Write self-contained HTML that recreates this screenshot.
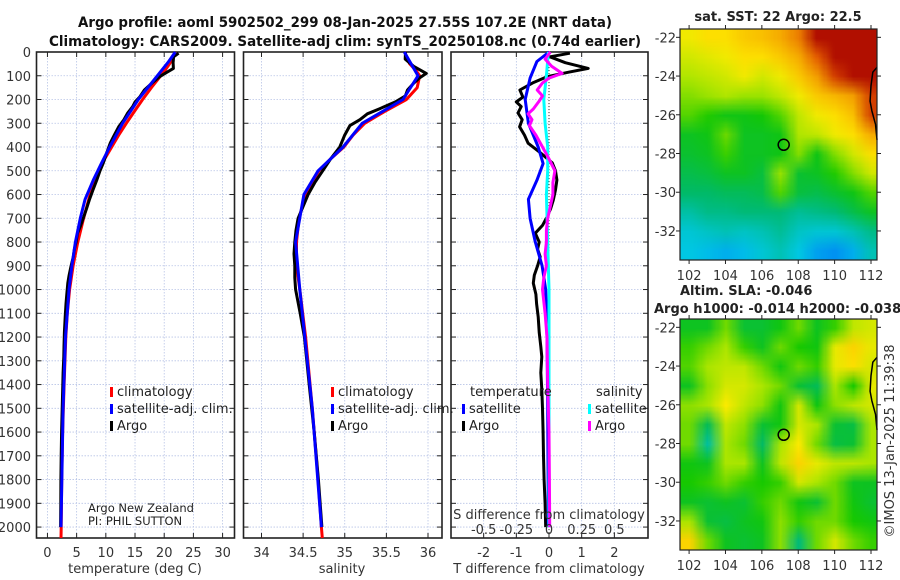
<!DOCTYPE html>
<html><head><meta charset="utf-8">
<style>
html,body{margin:0;padding:0;background:#fff;}
#wrap{position:relative;width:900px;height:580px;overflow:hidden;font-family:"DejaVu Sans","Liberation Sans",sans-serif;}
canvas{position:absolute;}
svg{position:absolute;left:0;top:0;}
</style></head>
<body>
<div id="wrap">
<canvas id="sstCanvas" style="left:680px;top:29px" width="197" height="231"></canvas>
<canvas id="slaCanvas" style="left:680px;top:319px" width="197" height="231"></canvas>
<svg id="fig" width="900" height="580" xmlns="http://www.w3.org/2000/svg"></svg>
</div>
<script>
// ---------- DATA ----------
const depthTicks = [0,100,200,300,400,500,600,700,800,900,1000,1100,1200,1300,1400,1500,1600,1700,1800,1900,2000];
const tempTicks = [0,5,10,15,20,25,30];
const salTicks = [34,34.5,35,35.5,36];
const salTickLabels = ["34","34.5","35","35.5","36"];
const tdiffTicks = [-2,-1,0,1,2];
const sdiffTicks = [-0.5,-0.25,0,0.25,0.5];
const sdiffTickLabels = ["-0.5","-0.25","0","0.25","0.5"];

const climTDepth = [0,25,50,75,100,150,200,250,300,350,400,450,500,600,700,800,900,1000,1100,1200,1400,1600,1800,2000,2046];
const climTVal   = [21.9,21.5,20.9,20.2,19.4,17.8,16.3,14.9,13.5,12.2,11.0,9.8,8.8,7.3,6.2,5.2,4.4,3.8,3.4,3.15,2.85,2.6,2.45,2.35,2.32];
const climSDepth = [0,50,80,100,150,200,250,300,350,400,450,500,600,700,800,900,1000,1200,1500,1800,2000,2046];
const climSVal   = [35.72,35.78,35.86,35.9,35.87,35.74,35.48,35.24,35.1,34.99,34.83,34.69,34.53,34.45,34.42,34.42,34.46,34.53,34.61,34.68,34.72,34.73];

const argoTDiffDepth = [5,20,45,69,85,104,130,160,190,210,230,257,285,315,350,384,420,467,500,539,580,623,660,694,730,763,800,830,862,900,940,973,1020,1060,1115,1180,1240,1283,1350,1420,1500,1600,1700,1800,1900,2000];
const argoTDiff      = [0.64,0.03,0.5,1.2,0.6,-0.06,-0.5,-0.89,-0.8,-1.0,-0.85,-0.95,-0.82,-0.9,-0.75,-0.64,-0.3,0.1,0.2,0.24,0.2,0.13,0.05,-0.06,-0.2,-0.42,-0.3,-0.35,-0.27,-0.35,-0.45,-0.48,-0.4,-0.38,-0.33,-0.3,-0.25,-0.22,-0.25,-0.22,-0.2,-0.18,-0.17,-0.15,-0.12,-0.1];
const satTDiffDepth = [0,40,110,200,300,400,470,540,620,700,800,900,1000,1200,1500,2000];
const satTDiff      = [0,-0.37,-0.58,-0.73,-0.63,-0.33,-0.18,-0.37,-0.63,-0.58,-0.42,-0.21,-0.1,-0.06,-0.04,-0.02];
const argoSDiffDepth = [0,30,60,90,110,130,160,185,210,240,260,285,310,350,400,450,500,550,600,650,700,750,800,850,900,950,1000,1100,1200,1400,1600,1800,2000];
const argoSDiff      = [0.01,-0.03,0.02,0.1,0.0,-0.05,-0.09,-0.05,-0.08,-0.12,-0.16,-0.13,-0.15,-0.1,-0.05,0.0,0.045,0.03,0.03,0.01,-0.01,-0.02,-0.02,-0.03,-0.02,-0.04,-0.05,-0.03,-0.015,-0.01,0.0,0.003,0.005];
const satSDiffDepth = [0,100,200,300,400,500,600,800,1000,1500,2000];
const satSDiff      = [-0.005,-0.02,-0.04,-0.03,-0.01,-0.01,-0.02,-0.01,0,0,0];

// maps: rows lat -22..-33, cols lon 102..112
const mapLats = [-22,-23,-24,-25,-26,-27,-28,-29,-30,-31,-32,-33];
const mapLons = [102,103,104,105,106,107,108,109,110,111,112];
const sstGrid = [
[22.8,23.0,23.0,23.2,23.3,23.5,23.8,24.5,24.5,24.5,24.5],
[22.6,22.7,22.8,23.0,23.0,23.2,23.5,24.0,24.5,24.5,24.5],
[22.4,22.5,22.6,22.8,22.6,22.8,23.2,23.6,24.2,24.5,24.5],
[22.2,22.3,22.4,22.3,22.3,22.5,22.8,23.2,23.4,23.6,24.2],
[22.0,21.8,21.6,21.6,21.7,22.0,22.5,22.8,23.0,23.3,24.2],
[21.5,21.6,22.1,21.5,21.5,21.6,22.4,22.5,22.8,23.0,23.5],
[21.4,21.5,21.9,21.5,21.5,21.6,22.2,21.6,22.2,22.6,23.0],
[21.2,21.3,21.5,21.5,21.3,22.3,21.4,21.5,21.8,22.2,22.6],
[21.0,21.0,21.1,21.1,21.2,22.0,21.3,21.2,21.4,21.6,22.0],
[20.6,20.8,20.8,20.9,20.9,20.9,20.7,20.8,20.9,21.2,21.5],
[20.3,20.4,20.5,20.4,20.5,20.7,20.4,20.3,20.3,20.5,20.8],
[20.2,20.1,20.0,20.1,20.3,20.5,20.2,19.9,19.8,20.0,20.5]];
const slaGrid = [
[-0.05,-0.05,0,-0.06,-0.06,-0.04,0,-0.05,-0.02,0.03,0.04],
[-0.02,0,0.02,-0.02,-0.05,0,-0.03,-0.04,0.05,0.08,0.05],
[-0.01,0.02,0.03,0.03,0,-0.04,0,-0.02,0.05,0.07,0.04],
[-0.05,0.01,0.04,0.04,0.02,0,-0.06,-0.08,0.02,-0.03,0.05],
[0.01,0.02,0.06,0.03,0.01,-0.04,0.04,-0.04,0.01,0.03,0.04],
[0.0,-0.08,0.03,0.01,-0.06,-0.04,0.04,0.02,-0.06,-0.07,0.02],
[0.0,-0.12,0.02,0.0,-0.09,0.02,0.06,0.0,-0.07,-0.06,0.02],
[-0.04,-0.05,0.02,0.02,-0.05,0.03,0.08,0.05,0.03,0.03,0.02],
[-0.03,-0.02,0,-0.02,-0.03,-0.02,0.04,0.02,0.0,-0.05,-0.05],
[-0.05,-0.06,-0.05,-0.06,-0.02,0,-0.04,-0.06,0,-0.04,-0.06],
[0.02,-0.06,-0.07,-0.05,-0.04,0.01,-0.02,0.0,0.0,-0.03,-0.04],
[0.08,0,-0.05,-0.06,-0.05,0.01,-0.10,0.0,0.04,0.0,-0.02]];
const mapLatTicks = [-22,-24,-26,-28,-30,-32];
const mapLonTicks = [102,104,106,108,110,112];
const argoLon = 107.2, argoLat = -27.55;
const coastLon = [112.33,112.1,112.0,111.95,112.05,112.25,112.33];
const coastLat = [-23.55,-23.8,-24.5,-25.3,-25.8,-26.5,-27.3];

// ---------- HELPERS ----------
const NS = "http://www.w3.org/2000/svg";
const svg = document.getElementById('fig');
function mk(tag, attrs, parent, text){
  const e = document.createElementNS(NS, tag);
  for (const k in attrs) e.setAttribute(k, attrs[k]);
  if (text !== undefined) e.textContent = text;
  (parent || svg).appendChild(e);
  return e;
}
function interp(xs, ys, x){
  if (x <= xs[0]) return ys[0];
  for (let i=1;i<xs.length;i++){ if (x <= xs[i]){ const t=(x-xs[i-1])/(xs[i]-xs[i-1]); return ys[i-1]+t*(ys[i]-ys[i-1]); } }
  return ys[ys.length-1];
}
const TOP=52, BOT=538, DMAX=2046;
const yD = d => TOP + d*(BOT-TOP)/DMAX;
function lin(d0,d1,r0,r1){ return v => r0 + (v-d0)*(r1-r0)/(d1-d0); }

const P1 = {x0:36.5, x1:234.5, s: lin(-1.875,32.04,36.5,234.5)};
const P2 = {x0:243.5, x1:442, s: lin(33.784,36.168,243.5,442)};
const P3 = {x0:451, x1:648, s: lin(-3.0,3.03,451,648), s2: lin(-0.75,0.7575,451,648)};

function panelFrame(P, name, xticks, xlabels, xscale){
  const g = mk('g',{});
  
  
  depthTicks.forEach(d=>{
    const y=yD(d);
    mk('line',{x1:P.x0,x2:P.x1,y1:y,y2:y,stroke:'#b8c4e6','stroke-width':0.8,'stroke-dasharray':'1.5,1.5'},g);
    mk('line',{x1:P.x0,x2:P.x0+5,y1:y,y2:y,stroke:'#222','stroke-width':1},g);
    mk('line',{x1:P.x1,x2:P.x1-5,y1:y,y2:y,stroke:'#222','stroke-width':1},g);
  });
  xticks.forEach((v,i)=>{
    const x=xscale(v);
    mk('line',{x1:x,x2:x,y1:TOP,y2:BOT,stroke:'#b8c4e6','stroke-width':0.8,'stroke-dasharray':'1.5,1.5'},g);
    mk('line',{x1:x,x2:x,y1:BOT,y2:BOT-5,stroke:'#222','stroke-width':1},g);
    mk('line',{x1:x,x2:x,y1:TOP,y2:TOP+5,stroke:'#222','stroke-width':1},g);
    const t = mk('text',{x:x,y:557,'text-anchor':'middle','font-size':13,fill:'#333'},g,xlabels[i]);
    
    
  });
  mk('rect',{x:P.x0,y:TOP,width:P.x1-P.x0,height:BOT-TOP,fill:'none',stroke:'#222','stroke-width':1.6},g);
  return g;
}
panelFrame(P1,'temperature-panel',tempTicks,tempTicks.map(String),P1.s);
panelFrame(P2,'salinity-panel',salTicks,salTickLabels,P2.s);
panelFrame(P3,'difference-panel',tdiffTicks,tdiffTicks.map(String),P3.s);

depthTicks.forEach(d=>{
  const t = mk('text',{x:31,y:yD(d)+5,'text-anchor':'end','font-size':13,fill:'#333'},svg,String(d));
  
  
});

function drawLine(pts, color, w, name, dash){
  const p = mk('polyline',{points:pts.map(q=>q[0].toFixed(1)+','+q[1].toFixed(1)).join(' '),fill:'none',stroke:color,'stroke-width':w,'stroke-linejoin':'round'});
  if (dash) p.setAttribute('stroke-dasharray',dash);
  
  
  return p;
}
drawLine(climTDepth.map((d,i)=>[P1.s(climTVal[i]),yD(d)]),'#f00',3,'climatology-temperature-line');
drawLine(argoTDiffDepth.map((d,i)=>[P1.s(interp(climTDepth,climTVal,d)+argoTDiff[i]),yD(d)]),'#000',3,'argo-temperature-line');
drawLine(satTDiffDepth.map((d,i)=>[P1.s(interp(climTDepth,climTVal,d)+satTDiff[i]),yD(d)]),'#00f',3,'satellite-temperature-line');
drawLine(climSDepth.map((d,i)=>[P2.s(climSVal[i]),yD(d)]),'#f00',3,'climatology-salinity-line');
drawLine(argoSDiffDepth.map((d,i)=>[P2.s(interp(climSDepth,climSVal,d)+argoSDiff[i]),yD(d)]),'#000',3,'argo-salinity-line');
drawLine(satSDiffDepth.map((d,i)=>[P2.s(interp(climSDepth,climSVal,d)+satSDiff[i]),yD(d)]),'#00f',3,'satellite-salinity-line');
drawLine([[P3.s(0),TOP],[P3.s(0),BOT]],'#333',1,'zero-line','1,2');
drawLine(argoTDiffDepth.map((d,i)=>[P3.s(argoTDiff[i]),yD(d)]),'#000',3,'argo-temperature-diff-line');
drawLine(satTDiffDepth.map((d,i)=>[P3.s(satTDiff[i]),yD(d)]),'#00f',3,'satellite-temperature-diff-line');
drawLine(satSDiffDepth.map((d,i)=>[P3.s2(satSDiff[i]),yD(d)]),'#0ff',3,'satellite-salinity-diff-line');
drawLine(argoSDiffDepth.map((d,i)=>[P3.s2(argoSDiff[i]),yD(d)]),'#f0f',3,'argo-salinity-diff-line');

sdiffTicks.forEach((v,i)=>{
  const t = mk('text',{x:P3.s2(v),y:534,'text-anchor':'middle','font-size':13,fill:'#333'},svg,sdiffTickLabels[i]);
  
  
});
</script>
<script>
function txt(x,y,s,opts,name){
  const t = mk('text',Object.assign({x:x,y:y,'font-size':13,fill:'#222'},opts||{}),svg,s);
  
  
  return t;
}
txt(345,27,'Argo profile: aoml 5902502_299 08-Jan-2025 27.55S 107.2E (NRT data)',{'text-anchor':'middle','font-weight':'bold','font-size':14,fill:'#111',textLength:534,lengthAdjust:'spacingAndGlyphs'},'main-title-line1');
txt(345,46,'Climatology: CARS2009. Satellite-adj clim: synTS_20250108.nc (0.74d earlier)',{'text-anchor':'middle','font-weight':'bold','font-size':14,fill:'#111',textLength:592,lengthAdjust:'spacingAndGlyphs'},'main-title-line2');
txt(135,573,'temperature (deg C)',{'text-anchor':'middle',fill:'#333'},'temperature-axis-title');
txt(342,573,'salinity',{'text-anchor':'middle',fill:'#333'},'salinity-axis-title');
txt(549,573,'T difference from climatology',{'text-anchor':'middle',fill:'#333'},'t-diff-axis-title');
txt(549,519,'S difference from climatology',{'text-anchor':'middle',fill:'#333'},'s-diff-axis-title');
txt(88,512,'Argo New Zealand',{'font-size':11.5},'argo-group-label');
txt(88,525,'PI: PHIL SUTTON',{'font-size':11.5},'pi-label');

function legendEntry(x,y,color,label,name){
  const m = mk('rect',{x:x,y:y-9,width:3,height:10,fill:color});
  
  
  txt(x+7,y,label,{},name);
}
legendEntry(110,396,'#f00','climatology','legend-climatology');
legendEntry(110,413,'#00f','satellite-adj. clim.','legend-satellite');
legendEntry(110,430,'#000','Argo','legend-argo');
legendEntry(331,396,'#f00','climatology','legend2-climatology');
legendEntry(331,413,'#00f','satellite-adj. clim.','legend2-satellite');
legendEntry(331,430,'#000','Argo','legend2-argo');
txt(470,396,'temperature',{},'legend-temperature-header');
legendEntry(462,413,'#00f','satellite','legend-t-satellite');
legendEntry(462,430,'#000','Argo','legend-t-argo');
txt(596,396,'salinity',{},'legend-salinity-header');
legendEntry(588,413,'#0ff','satellite','legend-s-satellite');
legendEntry(588,430,'#f0f','Argo','legend-s-argo');

const MX0=680, MX1=877, LON0=101.5, LON1=112.33, LAT0=-21.57, LAT1=-33.5;
const mlon = lin(LON0,LON1,MX0,MX1);
const stops = [[0,[0,90,255]],[0.15,[0,200,230]],[0.3,[0,185,110]],[0.45,[20,200,0]],[0.57,[170,230,0]],[0.67,[255,235,0]],[0.8,[245,165,0]],[0.9,[225,80,0]],[1,[165,0,0]]];
function cmap(t){
  t=Math.max(0,Math.min(1,t));
  for(let i=1;i<stops.length;i++){ if(t<=stops[i][0]){ const a=stops[i-1],b=stops[i]; const u=(t-a[0])/(b[0]-a[0]); return a[1].map((c,k)=>Math.round(c+u*(b[1][k]-c))); } }
  return stops[stops.length-1][1];
}
function drawMap(id, grid, vmin, vmax){
  const c=document.getElementById(id), ctx=c.getContext('2d');
  const nr=mapLats.length, nc=mapLons.length;
  const small=document.createElement('canvas'); small.width=nc; small.height=nr;
  const sc=small.getContext('2d'); const img=sc.createImageData(nc,nr);
  for(let r=0;r<nr;r++) for(let k=0;k<nc;k++){
    const col=cmap((grid[r][k]-vmin)/(vmax-vmin)); const o=(r*nc+k)*4;
    img.data[o]=col[0];img.data[o+1]=col[1];img.data[o+2]=col[2];img.data[o+3]=255;
  }
  sc.putImageData(img,0,0);
  ctx.imageSmoothingEnabled=true;
  const px=(MX1-MX0)/(LON1-LON0), py=231/(LAT0-LAT1);
  ctx.drawImage(small, 0,0,nc,nr, 0, (LAT0+21.5)*py, nc*px, nr*py);
}
drawMap('sstCanvas', sstGrid, 19.4, 24.6);
drawMap('slaCanvas', slaGrid, -0.22, 0.2);

function mapFrame(y0,y1,name,bottomLabelY){
  const mlat = lin(LAT0,LAT1,y0,y1);
  const g = mk('g',{});
  
  
  mapLatTicks.forEach(v=>{
    const y=mlat(v);
    mk('line',{x1:MX0,x2:MX0-4,y1:y,y2:y,stroke:'#222'},g);
    mk('line',{x1:MX1,x2:MX1+4,y1:y,y2:y,stroke:'#222'},g);
    const t=mk('text',{x:676,y:y+5,'text-anchor':'end','font-size':13,fill:'#333'},g,String(v));
    
    
  });
  mapLonTicks.forEach(v=>{
    const x=mlon(v);
    mk('line',{x1:x,x2:x,y1:y1,y2:y1+4,stroke:'#222'},g);
    mk('line',{x1:x,x2:x,y1:y0,y2:y0-4,stroke:'#222'},g);
    const t=mk('text',{x:x,y:bottomLabelY,'text-anchor':'middle','font-size':13,fill:'#333'},g,String(v));
    
    
  });
  const cst=mk('polyline',{points:coastLon.map((v,i)=>mlon(v)+','+mlat(coastLat[i])).join(' '),fill:'none',stroke:'#000','stroke-width':1.5},g);
  
  
  const c=mk('circle',{cx:mlon(argoLon),cy:mlat(argoLat),r:5.5,fill:'none',stroke:'#000','stroke-width':1.5},g);
  
  
  mk('rect',{x:MX0,y:y0,width:MX1-MX0,height:y1-y0,fill:'none',stroke:'#222','stroke-width':1.2},g);
}
mapFrame(29,260,'sst-map',280);
mapFrame(319,550,'sla-map',570);
txt(778,21,'sat. SST: 22 Argo: 22.5',{'text-anchor':'middle','font-weight':'bold'},'sst-map-title');
txt(680,295,'Altim. SLA: -0.046',{'font-weight':'bold'},'sla-map-title');
txt(654,313,'Argo h1000: -0.014 h2000: -0.038',{'font-weight':'bold'},'argo-height-title');
txt(0,0,'©IMOS 13-Jan-2025 11:39:38',{'text-anchor':'middle',transform:'translate(894,441) rotate(-90)',fill:'#333'},'imos-timestamp');
</script>
</body></html>
